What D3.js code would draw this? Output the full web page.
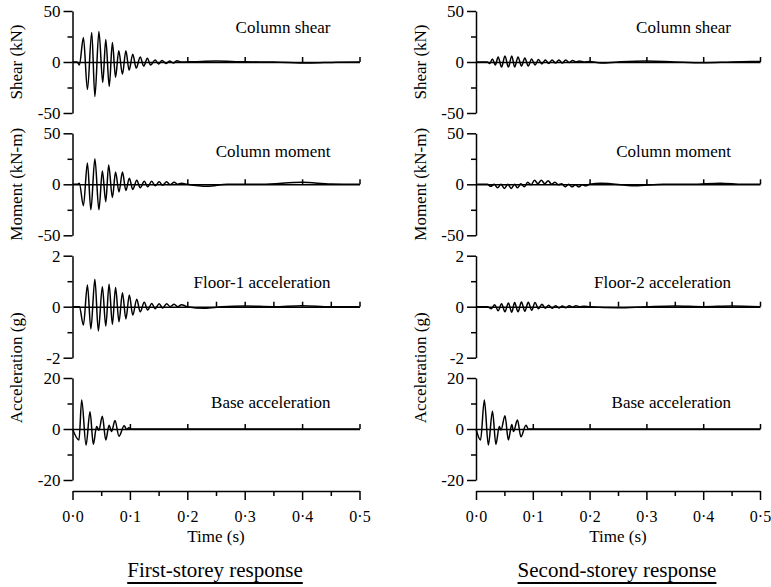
<!DOCTYPE html>
<html>
<head>
<meta charset="utf-8">
<script src="https://cdn.jsdelivr.net/npm/d3@7"></script>
<style>
body { margin: 0; background: #fff; }
</style>
</head>
<body>
<script>
// [time (s), value] — extrema
const shear1 = [[0,0],[0.008,0],[0.012,-3],[0.019,24],[0.026,-27],[0.0335,29],[0.039,-34],[0.046,30],[0.0527,-20],[0.058,22],[0.064,-24],[0.0695,19],[0.075,-15],[0.0806,11],[0.087,-12],[0.093,11],[0.0986,-8],[0.105,7.7],[0.111,-6],[0.118,5],[0.124,-4],[0.1305,3.7],[0.136,-3],[0.144,2],[0.150,-2],[0.156,1.5],[0.163,-1.5],[0.169,1],[0.176,-1],[0.182,1.2],[0.19,0],[0.21,0.3],[0.25,1],[0.3,0.2],[0.35,0],[0.41,-1],[0.46,-0.2],[0.5,0]];
const moment1 = [[0,0],[0.008,0],[0.012,1],[0.019,-21],[0.026,21],[0.032,-25],[0.039,25],[0.046,-25],[0.052,13],[0.058,-17],[0.063,19],[0.0695,-13],[0.075,12],[0.081,-7.5],[0.087,12],[0.093,-6],[0.099,6],[0.105,-5],[0.112,4],[0.118,-3.4],[0.125,3],[0.131,-2.5],[0.138,3],[0.144,-1.5],[0.151,2.5],[0.157,-1],[0.164,2.5],[0.170,-0.5],[0.177,2],[0.1835,0],[0.19,1],[0.2,0],[0.235,-2],[0.27,0],[0.33,0],[0.4,2],[0.45,0.3],[0.5,0]];
const floor1 = [[0,0],[0.012,0],[0.019,-0.72],[0.026,0.85],[0.032,-0.87],[0.039,1.08],[0.045,-0.95],[0.052,0.78],[0.058,-0.76],[0.0637,0.88],[0.0695,-0.69],[0.075,0.75],[0.081,-0.59],[0.087,0.55],[0.093,-0.48],[0.099,0.46],[0.105,-0.33],[0.112,0.29],[0.118,-0.2],[0.125,0.17],[0.131,-0.13],[0.138,0.13],[0.144,-0.08],[0.151,0.12],[0.157,-0.05],[0.164,0.12],[0.170,0],[0.177,0.1],[0.1835,0],[0.19,0.08],[0.2,0],[0.23,-0.06],[0.26,0],[0.3,0.03],[0.35,0],[0.4,0.04],[0.45,0],[0.5,0]];
const base1 = [[0,0],[0.0113,-4.3],[0.016,11.4],[0.0236,-6.3],[0.0305,6.8],[0.0363,-6],[0.042,1],[0.046,-0.5],[0.052,5],[0.058,-4.3],[0.0637,1.5],[0.068,-1],[0.074,3.3],[0.081,-2.8],[0.09,1.3],[0.0945,-0.2],[0.098,0.5],[0.102,0],[0.5,0]];

const shear2 = [[0,0],[0.02,0],[0.024,-1.5],[0.029,3],[0.034,-3],[0.039,5],[0.045,-5],[0.051,6],[0.057,-5],[0.063,6],[0.068,-5],[0.074,5],[0.080,-4],[0.086,4],[0.092,-4],[0.098,3],[0.104,-3],[0.110,2.5],[0.116,-2],[0.122,2],[0.128,-1.5],[0.134,2],[0.140,-1],[0.146,2],[0.152,-1],[0.158,2],[0.164,-0.5],[0.170,1.5],[0.176,0],[0.182,1],[0.19,0],[0.2,0.5],[0.22,-1],[0.25,0],[0.3,1],[0.35,0],[0.4,-0.8],[0.45,0],[0.5,0.5]];
const moment2 = [[0,0],[0.02,0],[0.026,-2],[0.032,0],[0.038,-3.5],[0.044,0],[0.050,-4],[0.056,0],[0.062,-4],[0.068,0],[0.073,-3.5],[0.079,0.5],[0.085,-2.5],[0.091,2],[0.097,-0.5],[0.103,4],[0.109,0.5],[0.115,4],[0.121,0.5],[0.127,3.5],[0.133,0],[0.139,2],[0.145,-0.5],[0.151,0.5],[0.157,-2.5],[0.163,0],[0.169,-2.5],[0.175,-0.5],[0.181,-2.5],[0.187,-0.5],[0.193,-1.5],[0.2,0],[0.22,1],[0.28,-1.5],[0.33,0],[0.38,0],[0.43,1],[0.47,0],[0.5,0]];
const floor2 = [[0,0],[0.02,0],[0.027,-0.08],[0.033,0.08],[0.039,-0.16],[0.045,0.12],[0.051,-0.2],[0.057,0.15],[0.063,-0.22],[0.068,0.16],[0.074,-0.2],[0.080,0.18],[0.086,-0.18],[0.092,0.17],[0.098,-0.14],[0.104,0.16],[0.110,-0.08],[0.116,0.1],[0.122,-0.06],[0.128,0.06],[0.134,-0.06],[0.140,0.04],[0.146,-0.05],[0.152,0.03],[0.158,-0.04],[0.164,0.04],[0.170,-0.02],[0.176,0.04],[0.182,0],[0.19,0.02],[0.2,0],[0.25,-0.04],[0.3,0],[0.35,0.03],[0.4,0],[0.45,0.03],[0.5,0]];
const base2 = [[0,0],[0.008,-4.3],[0.0147,11.4],[0.0217,-6.3],[0.029,7],[0.035,-6],[0.041,1],[0.044,-0.4],[0.051,5.2],[0.057,-4.3],[0.063,1.8],[0.066,-1],[0.073,3.5],[0.079,-3],[0.088,1.5],[0.092,0],[0.098,0],[0.5,0]];

const seriesLeft = [shear1, moment1, floor1, base1];
const seriesRight = [shear2, moment2, floor2, base2];
const titlesLeft = ["Column shear", "Column moment", "Floor-1 acceleration", "Base acceleration"];
const titlesRight = ["Column shear", "Column moment", "Floor-2 acceleration", "Base acceleration"];
const yLimits = [50, 50, 2, 20];
const yTitles = ["Shear (kN)", "Moment (kN-m)", "Acceleration (g)"];
const timeTicks = [0, 0.1, 0.2, 0.3, 0.4, 0.5];
const timeMinor = [0.05, 0.15, 0.25, 0.35, 0.45];
const captions = ["First-storey response", "Second-storey response"];

// layout
const W = 771, H = 587;
const FONT = "Liberation Serif";
const colRanges = [[72.5, 359.5], [476, 760]];
const zeroY = [62, 184.3, 306.7, 429];
const half = 51;
const titleY = [33, 157, 288, 408];
const axisY = 491;
const zeroTicks = [
  [0.2, 0.3, 0.4, 0.5],
  [0.2, 0.3, 0.4, 0.5],
  [0.2, 0.25, 0.3, 0.35, 0.4, 0.45, 0.5],
  [0.1, 0.2, 0.3, 0.4, 0.5]
];

const svg = d3.select("body").append("svg")
  .attr("width", W).attr("height", H)
  .attr("font-family", FONT);

const fmt = d => d3.format(".1f")(d).replace(".", "\u00b7");
const yFmt = d => String(d);

function styleAxis(g, size) {
  g.attr("font-family", FONT).attr("font-size", size || 16);
  g.selectAll("path, line").attr("stroke", "#000").attr("stroke-width", 1.5);
  g.selectAll("text").attr("fill", "#000");
}

[seriesLeft, seriesRight].forEach((series, c) => {
  const titles = c === 0 ? titlesLeft : titlesRight;
  const [x0, x1] = colRanges[c];
  const x = d3.scaleLinear().domain([0, 0.5]).range([x0, x1]);

  series.forEach((data, p) => {
    const L = yLimits[p];
    const y = d3.scaleLinear().domain([-L, L]).range([zeroY[p] + half, zeroY[p] - half]);
    const g = svg.append("g");

    // y axis
    g.append("g").attr("transform", `translate(${x0},0)`)
      .call(d3.axisLeft(y).tickValues([-L, 0, L]).tickSize(9).tickSizeOuter(0).tickPadding(3).tickFormat(yFmt))
      .call(styleAxis, 17);
    g.append("g").attr("transform", `translate(${x0},0)`)
      .call(d3.axisLeft(y).tickValues([-L / 2, L / 2]).tickSize(5).tickFormat(""))
      .call(a => a.select(".domain").remove())
      .call(styleAxis);

    // zero line with small ticks
    g.append("g").attr("transform", `translate(0,${y(0)})`)
      .call(d3.axisTop(x).tickValues(zeroTicks[p]).tickSize(5).tickSizeOuter(0).tickFormat(""))
      .call(styleAxis);

    // signal
    g.append("path").datum(data)
      .attr("fill", "none").attr("stroke", "#000").attr("stroke-width", 1.5)
      .attr("stroke-linejoin", "round")
      .attr("d", d3.line().x(d => x(d[0])).y(d => y(d[1])).curve(d3.curveMonotoneX));

    // panel title
    g.append("text").attr("x", x1 - 29).attr("y", titleY[p])
      .attr("text-anchor", "end").attr("font-size", 17).text(titles[p]);
  });

  // y titles
  const ty = [zeroY[0], zeroY[1], (zeroY[2] + zeroY[3]) / 2];
  yTitles.forEach((t, i) => {
    svg.append("text")
      .attr("transform", `translate(${x0 - 56},${ty[i]}) rotate(-90)`)
      .attr("text-anchor", "middle").attr("dy", "0.35em")
      .attr("font-size", 17).text(t);
  });

  // time axis
  svg.append("g").attr("transform", `translate(0,${axisY})`)
    .call(d3.axisBottom(x).tickValues(timeTicks).tickSize(9).tickSizeOuter(0).tickPadding(11).tickFormat(fmt))
    .call(styleAxis, 16);
  svg.append("g").attr("transform", `translate(0,${axisY})`)
    .call(d3.axisBottom(x).tickValues(timeMinor).tickSize(5).tickFormat(""))
    .call(a => a.select(".domain").remove())
    .call(styleAxis);

  svg.append("text").attr("x", (x0 + x1) / 2).attr("y", 542)
    .attr("text-anchor", "middle").attr("font-size", 17).text("Time (s)");

  const cap = svg.append("text").attr("x", (x0 + x1) / 2 - 1).attr("y", 577)
    .attr("text-anchor", "middle").attr("font-size", 21).text(captions[c]);
  const w = cap.node().getComputedTextLength();
  svg.append("line")
    .attr("x1", (x0 + x1) / 2 - 1 - w / 2).attr("x2", (x0 + x1) / 2 - 1 + w / 2)
    .attr("y1", 583).attr("y2", 583)
    .attr("stroke", "#000").attr("stroke-width", 2);
});
</script>
</body>
</html>
